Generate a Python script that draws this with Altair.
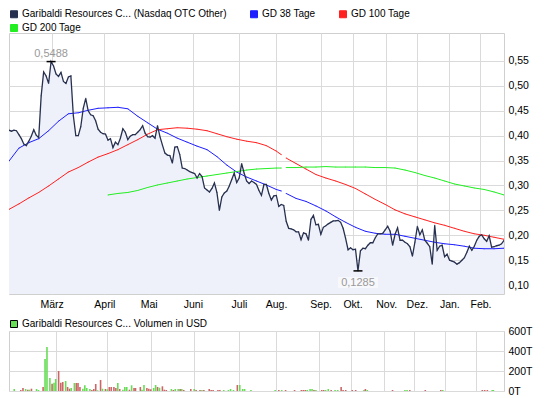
import altair as alt
import pandas as pd

# ---------------- data ----------------
series_names = ["Garibaldi Resources C... (Nasdaq OTC Other)", "GD 38 Tage", "GD 100 Tage", "GD 200 Tage"]
series_colors = ["#27304f", "#1e1eff", "#ff2020", "#22ee22"]
vol_name = "Garibaldi Resources C... Volumen in USD"

month_names = ["März", "April", "Mai", "Juni", "Juli", "Aug.", "Sep.", "Okt.", "Nov.", "Dez.", "Jan.", "Feb."]
month_pos = [17.2, 38.5, 56.4, 74.3, 92.9, 107.9, 125.9, 138.8, 152.4, 164.8, 177.9, 190.5]
price_ticks = [0.10, 0.15, 0.20, 0.25, 0.30, 0.35, 0.40, 0.45, 0.50, 0.55]
vol_ticks = [0, 200, 400, 600]

# closing price, one value per trading day (index 0..200)
price = [
    0.411, 0.409, 0.411, 0.410, 0.402, 0.394, 0.383, 0.380, 0.389, 0.399,
    0.412, 0.401, 0.396, 0.480, 0.528, 0.520, 0.505, 0.5488, 0.540, 0.524,
    0.519, 0.527, 0.509, 0.505, 0.518, 0.520, 0.440, 0.400, 0.400, 0.418,
    0.455, 0.475, 0.450, 0.442, 0.440, 0.430, 0.413, 0.407, 0.404, 0.403,
    0.391, 0.394, 0.376, 0.387, 0.382, 0.395, 0.414, 0.407, 0.392, 0.399,
    0.402, 0.402, 0.407, 0.412, 0.420, 0.405, 0.398, 0.397, 0.400, 0.395,
    0.420, 0.398, 0.381, 0.365, 0.361, 0.360, 0.345, 0.377, 0.378, 0.362,
    0.335, 0.334, 0.331, 0.328, 0.326, 0.324, 0.315, 0.324, 0.318, 0.295,
    0.291, 0.287, 0.294, 0.305, 0.286, 0.250, 0.277, 0.285, 0.289, 0.299,
    0.312, 0.325, 0.306, 0.315, 0.344, 0.325, 0.309, 0.304, 0.309, 0.306,
    0.302, 0.290, 0.280, 0.302, 0.302, 0.284, 0.271, 0.279, 0.280, 0.258,
    0.262, 0.260, 0.228, 0.214, 0.213, 0.211, 0.207, 0.207, 0.191, 0.205,
    0.203, 0.190, 0.232, 0.240, 0.221, 0.222, 0.202, 0.216, 0.219, 0.223,
    0.226, 0.229, 0.229, 0.230, 0.226, 0.214, 0.194, 0.171, 0.175, 0.171,
    0.172, 0.1285, 0.169, 0.174, 0.173, 0.180, 0.185, 0.185, 0.195, 0.203,
    0.203, 0.204, 0.211, 0.218, 0.208, 0.180, 0.202, 0.215, 0.190, 0.190,
    0.186, 0.183, 0.177, 0.158, 0.186, 0.218, 0.201, 0.211, 0.190, 0.184,
    0.177, 0.142, 0.220, 0.170, 0.178, 0.180, 0.157, 0.162, 0.150, 0.148,
    0.146, 0.142, 0.145, 0.150, 0.155, 0.166, 0.178, 0.170, 0.178, 0.190,
    0.198, 0.201, 0.193, 0.188, 0.199, 0.176, 0.177, 0.179, 0.180, 0.183,
    0.190,
]

# moving averages, sampled at these trading-day indices (None = gap)
ma_idx = list(range(0, 109, 4)) + [110, 111] + list(range(112, 201, 4))
gd38 = [
    0.349, 0.375, 0.386, 0.394, 0.410, 0.429, 0.444, 0.446, 0.451, 0.455,
    0.456, 0.457, 0.454, 0.439, 0.426, 0.413, 0.405, 0.395, 0.387, 0.379,
    0.372, 0.358, 0.341, 0.327, 0.317, 0.309, 0.301, 0.292, 0.289, None,
    0.284, 0.274, 0.268, 0.259, 0.249, 0.237, 0.226, 0.216, 0.208, 0.204,
    0.202, 0.202, 0.198, 0.194, 0.190, 0.186, 0.183, 0.181, 0.178, 0.174,
    0.173, 0.173, 0.174,
]
gd100 = [
    0.252, 0.263, 0.275, 0.286, 0.299, 0.313, 0.327, 0.336, 0.347, 0.357,
    0.364, 0.372, 0.382, 0.392, 0.403, 0.412, 0.414, 0.416, 0.415, 0.413,
    0.410, 0.404, 0.398, 0.393, 0.389, 0.386, 0.380, 0.369, 0.362, None,
    0.355, 0.344, 0.333, 0.322, 0.315, 0.309, 0.302, 0.294, 0.283, 0.272,
    0.262, 0.251, 0.243, 0.237, 0.231, 0.225, 0.220, 0.214, 0.208, 0.203,
    0.200, 0.196, 0.192,
]
gd200 = [
    None, None, None, None, None, None, None, None, None, None,
    0.281, 0.284, 0.286, 0.290, 0.296, 0.301, 0.305, 0.309, 0.313, 0.316,
    0.319, 0.322, 0.325, 0.328, 0.331, 0.333, 0.334, 0.335, 0.335, None,
    0.336, 0.336, 0.337, 0.337, 0.338, 0.337, 0.337, 0.337, 0.337, 0.336,
    0.336, 0.335, 0.331, 0.326, 0.320, 0.315, 0.309, 0.303, 0.299, 0.295,
    0.292, 0.287, 0.281,
]

# volume (thousand USD), position on the trading-day axis, up day = 1
vol_pos = [
    0.1, 2.8, 3.7, 4.8, 5.7, 6.4, 7.2, 9.3, 10.1, 12.0, 12.8, 13.6, 14.8, 15.7, 16.5,
    17.2, 18.4, 19.3, 20.1, 21.3, 22.1, 22.9, 23.6, 24.9, 25.7, 26.4, 27.2, 28.4, 29.2,
    30.0, 31.3, 32.1, 32.9, 33.7, 34.5, 35.7, 36.5, 37.7, 38.5, 39.3, 40.1, 41.2, 42.0,
    42.8, 43.6, 44.9, 45.7, 46.5, 47.6, 48.5, 49.5, 50.1, 52.1, 52.8, 53.6, 54.8, 55.6,
    56.4, 57.6, 58.4, 59.2, 60.0, 61.2, 62.0, 62.8, 64.9, 65.7, 66.5, 67.7, 68.5, 69.2,
    70.0, 72.9, 74.3, 75.1, 76.7, 77.5, 78.3, 80.5, 81.3, 82.1, 84.1, 84.9, 86.5, 88.4,
    89.3, 90.5, 92.1, 93.1, 94.3, 95.1, 97.7, 107.7, 109.2, 110.4, 112.0, 115.7, 118.5,
    119.3, 120.1, 120.9, 122.1, 122.9, 123.7, 124.5, 126.9, 127.7, 128.5, 129.6, 130.8,
    132.4, 133.5, 134.9, 135.7, 136.8, 139.5, 140.9, 144.3, 144.9, 145.7, 156.1, 161.2,
    162.1, 163.2, 169.6, 176.0, 176.8, 193.1, 194.1, 195.2, 197.2, 197.7,
]
vol_val = [
    20, 10, 30, 20, 13, 13, 23, 20, 10, 40, 320, 440, 130, 73, 83,
    120, 200, 83, 90, 100, 40, 23, 30, 80, 80, 80, 40, 23, 57,
    30, 20, 10, 20, 70, 7, 110, 23, 20, 17, 40, 40, 40, 30,
    80, 20, 13, 40, 40, 13, 57, 30, 30, 40, 13, 60, 30, 23,
    17, 30, 60, 40, 33, 47, 13, 10, 20, 10, 20, 20, 20, 20,
    10, 20, 20, 10, 10, 10, 10, 20, 10, 10, 10, 10, 10, 10,
    20, 10, 60, 60, 20, 20, 10, 10, 10, 10, 10, 10, 10,
    10, 10, 10, 20, 20, 10, 10, 10, 10, 10, 20, 10,
    10, 10, 40, 10, 10, 10, 10, 10, 20, 10, 10, 10,
    10, 10, 10, 10, 10, 10, 10, 10, 10, 10,
]
vol_up = [
    1, 0, 0, 1, 0, 1, 0, 1, 1, 0, 1, 1, 1, 0, 1,
    1, 0, 0, 0, 1, 0, 0, 1, 1, 0, 0, 0, 1, 1,
    1, 1, 0, 0, 0, 1, 0, 1, 0, 1, 0, 0, 0, 0,
    1, 0, 1, 1, 1, 0, 1, 0, 0, 0, 1, 1, 0, 0,
    0, 1, 1, 0, 1, 0, 0, 0, 1, 0, 1, 1, 0, 1,
    0, 0, 1, 0, 0, 1, 0, 0, 0, 0, 0, 0, 1, 1,
    1, 1, 0, 1, 1, 1, 1, 1, 0, 1, 0, 0, 0,
    0, 0, 1, 1, 1, 0, 1, 0, 0, 1, 1, 0,
    1, 1, 0, 0, 0, 0, 0, 1, 0, 1, 0, 1,
    1, 0, 0, 0, 1, 0, 0, 0, 1, 1,
]

# ---------------- tables ----------------
n = len(price)
price_df = pd.DataFrame({"idx": list(range(n)), "value": price,
                         "series": series_names[0], "key": "p"})

ma_rows = []
for name, vals in zip(series_names[1:], [gd38, gd100, gd200]):
    seg = 0
    for i, v in zip(ma_idx, vals):
        if v is None:
            seg += 1
            continue
        ma_rows.append({"idx": i, "value": v, "series": name, "key": f"{name}-{seg}"})
ma_df = pd.DataFrame(ma_rows)
all_df = pd.concat([price_df, ma_df], ignore_index=True)

imax = int(pd.Series(price).idxmax())
imin = int(pd.Series(price).idxmin())
fmt = lambda v: f"{v:.4f}".replace(".", ",")
max_df = pd.DataFrame({"idx": [imax], "value": [price[imax]], "label": [fmt(price[imax])]})
min_df = pd.DataFrame({"idx": [imin], "value": [price[imin]], "label": [fmt(price[imin])]})

vol_df = pd.DataFrame({"idx": vol_pos, "vol": vol_val,
                       "dir": [vol_name if u else "down" for u in vol_up]})

# ---------------- encodings ----------------
FONT = "Liberation Sans"
W = 495
x_scale = alt.Scale(domain=[0, n - 1], nice=False, zero=False)
month_expr = "{}[indexof({}, datum.value)]".format(
    "[" + ",".join("'" + m + "'" for m in month_names) + "]",
    "[" + ",".join(str(p) for p in month_pos) + "]")

x_main = alt.X("idx:Q", scale=x_scale, title=None,
               axis=alt.Axis(values=month_pos, labelExpr=month_expr, grid=True, ticks=False,
                             domain=False, labelPadding=5, labelFlush=False, labelOverlap=False))
y_main = alt.Y("value:Q", title=None,
               scale=alt.Scale(domain=[0.0821, 0.6062], nice=False, zero=False),
               axis=alt.Axis(orient="right", values=price_ticks, grid=True, ticks=False, domain=False,
                             labelPadding=4, labelExpr="replace(format(datum.value, '.2f'), '.', ',')"))

series_scale = alt.Scale(domain=series_names, range=series_colors)
stroke_main = alt.Stroke("series:N", scale=series_scale, legend=None)
fill_legend = alt.Fill(
    "series:N", scale=series_scale,
    legend=alt.Legend(title=None, orient="none", legendX=0, legendY=-24, direction="horizontal",
                      columns=3, columnPadding=21, rowPadding=2, symbolType="square", symbolSize=49,
                      symbolStrokeColor="#000000", symbolStrokeWidth=1, symbolOpacity=1,
                      labelOffset=3, labelLimit=400, padding=0, labelFontSize=10, labelFont=FONT),
)

area = alt.Chart(price_df).mark_area(color="#eef1f9", clip=True).encode(x=x_main, y=y_main)
legend_keys = alt.Chart(all_df).mark_square(size=1, filled=True, clip=True).encode(
    x=x_main, y=y_main, fill=fill_legend)
ma_lines = alt.Chart(ma_df).mark_line(strokeWidth=1, clip=True).encode(
    x=x_main, y=y_main, stroke=stroke_main, detail="key:N")
price_line = alt.Chart(price_df).mark_line(strokeWidth=1.3, clip=True).encode(
    x=x_main, y=y_main, stroke=stroke_main, detail="key:N")

max_mark = alt.Chart(max_df).mark_rule(color="#000000", strokeWidth=1.5, xOffset=-4.5, x2Offset=4.5).encode(
    x=x_main, x2="idx:Q", y=y_main)
max_text = alt.Chart(max_df).mark_text(color="#999999", font=FONT, fontSize=11, dy=-5,
                                       baseline="alphabetic").encode(x=x_main, y=y_main, text="label:N")
min_mark = alt.Chart(min_df).mark_rule(color="#000000", strokeWidth=1.5, xOffset=-4.5, x2Offset=4.5).encode(
    x=x_main, x2="idx:Q", y=y_main)
min_box = alt.Chart(min_df).mark_rect(color="#f7f8fb", xOffset=-20, x2Offset=20, yOffset=6, y2Offset=17).encode(
    x=x_main, x2="idx:Q", y=y_main, y2="value:Q")
min_text = alt.Chart(min_df).mark_text(color="#999999", font=FONT, fontSize=11, dy=15,
                                       baseline="alphabetic").encode(x=x_main, y=y_main, text="label:N")

main = alt.layer(area, legend_keys, ma_lines, price_line, max_mark, max_text, min_mark, min_box,
                 min_text).properties(width=W, height=261)

x_vol = alt.X("idx:Q", scale=x_scale, title=None,
              axis=alt.Axis(values=month_pos, grid=True, ticks=False, domain=False, labels=False))
y_vol = alt.Y("vol:Q", title=None, scale=alt.Scale(domain=[0, 600], nice=False),
              axis=alt.Axis(orient="right", values=vol_ticks, grid=True, ticks=False, domain=False,
                            labelPadding=4, labelExpr="format(datum.value, 'd') + 'T'"))
vol = alt.Chart(vol_df).mark_bar(width=1.6).encode(
    x=x_vol, y=y_vol,
    color=alt.Color("dir:N", scale=alt.Scale(domain=[vol_name, "down"], range=["#66dd55", "#cc6666"]),
                    legend=alt.Legend(title=None, orient="none", legendX=0, legendY=-12, values=[vol_name],
                                      symbolType="square", symbolSize=49, symbolStrokeColor="#000000",
                                      symbolStrokeWidth=1, labelOffset=3, labelLimit=400,
                                      padding=0, labelFontSize=10, labelFont=FONT)),
).properties(width=W, height=60)

chart = alt.vconcat(main, vol, spacing=8).resolve_scale(
    color="independent", fill="independent", stroke="independent").resolve_legend(
    color="independent", fill="independent", stroke="independent").properties(
    padding=0).configure_view(
    stroke="#cfcfcf").configure_axis(gridColor="#dadada", labelFont=FONT, labelFontSize=10.5,
                                     labelColor="#000000")

chart.save("out.html", embed_options={"renderer": "svg", "actions": False})
